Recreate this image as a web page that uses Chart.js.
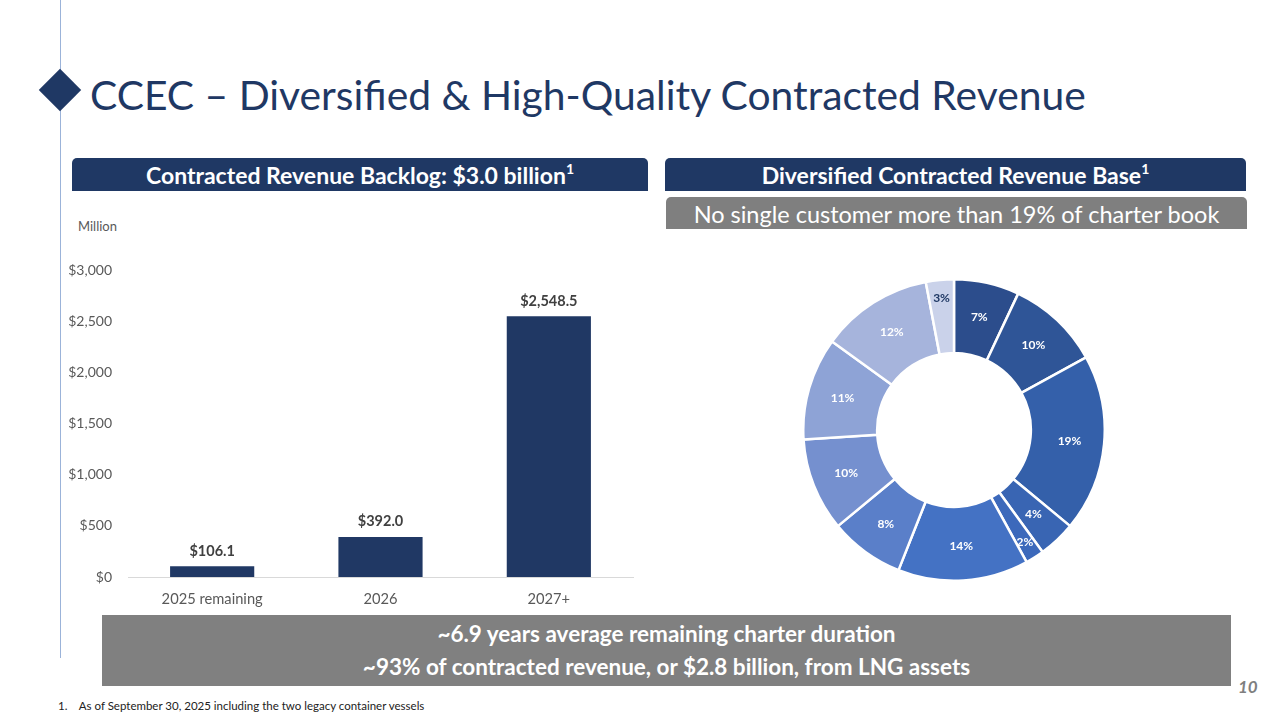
<!DOCTYPE html>
<html>
<head>
<meta charset="utf-8">
<script src="https://cdn.jsdelivr.net/npm/chart.js@4"></script>
<style>
  html, body { margin:0; padding:0; background:#fff; width:1280px; height:720px; overflow:hidden; font-family: Lato, "Open Sans", sans-serif; }
  .abs { position:absolute; }
  #vline { left:60px; top:0; width:1px; height:658px; background:#9bb3d9; }
  #diamond { left:45px; top:75px; width:30px; height:30px; background:#1f3864; transform:rotate(45deg); }
  #title { left:90px; top:71px; font-size:40.8px; color:#1f3864; white-space:nowrap; line-height:48px; }
  .hdr { background:#1f3864; color:#fff; font-weight:bold; font-size:23px; text-align:center; line-height:35px; height:33px; border-radius:5px 5px 0 0; white-space:nowrap; overflow:hidden; }
  .hdr sup { font-size:14px; vertical-align:top; line-height:22px; }
  #hdrL { left:72px; top:158px; width:576px; }
  #hdrR { left:665px; top:158px; width:581px; }
  #sub { left:666px; top:197px; width:581px; height:32px; line-height:34px; background:#7f7f7f; color:#fff; font-size:23.5px; text-align:center; border-radius:5px 5px 0 0; white-space:nowrap; overflow:hidden; }
  #million { left:78px; top:218px; font-size:13px; color:#595959; }
  #barWrap { left:50px; top:240px; width:600px; height:380px; }
  #pieWrap { left:802px; top:278px; width:304px; height:304px; }
  #bottom { left:102px; top:615px; width:1129px; height:71px; background:#808080; color:#fff; font-weight:bold; font-size:22.5px; text-align:center; }
  #bottom div { height:33px; line-height:37px; }
  #foot { left:58px; top:699px; font-size:11.5px; color:#222; white-space:nowrap; }
  #pnum { left:1238px; top:676px; font-size:17px; font-weight:bold; font-style:italic; color:#7f7f7f; }
</style>
</head>
<body>
<div id="vline" class="abs"></div>
<div id="diamond" class="abs"></div>
<div id="title" class="abs">CCEC – Diversified &amp; High-Quality Contracted Revenue</div>
<div id="hdrL" class="abs hdr">Contracted Revenue Backlog: $3.0 billion<sup>1</sup></div>
<div id="hdrR" class="abs hdr">Diversified Contracted Revenue Base<sup>1</sup></div>
<div id="sub" class="abs">No single customer more than 19% of charter book</div>
<div id="million" class="abs">Million</div>
<div id="barWrap" class="abs"><canvas id="bar" width="600" height="380"></canvas></div>
<div id="pieWrap" class="abs"><canvas id="pie" width="304" height="304"></canvas></div>
<div id="bottom" class="abs"><div>~6.9 years average remaining charter duration</div><div>~93% of contracted revenue, or $2.8 billion, from LNG assets</div></div>
<div id="foot" class="abs">1.&nbsp;&nbsp;&nbsp;&nbsp;As of September 30, 2025 including the two legacy container vessels</div>
<div id="pnum" class="abs">10</div>
<script>
const barCategories = ["2025 remaining", "2026", "2027+"];
const barValues = [106.1, 392.0, 2548.5];
const yTickMax = 3000;
const yTickStep = 500;

const pieShares = [7, 10, 19, 4, 2, 14, 8, 10, 11, 12, 3];
const pieColors = ["#2c4d8c", "#2f5597", "#3460aa", "#3965b3", "#3c69bb", "#4472c4", "#5a7fc9", "#7590cf", "#8ea3d6", "#a6b4dc", "#cad2ea"];
const pieLabelColors = ["#fff","#fff","#fff","#fff","#fff","#fff","#fff","#fff","#fff","#fff","#1f3864"];

const fontFam = 'Lato, "Open Sans", sans-serif';

const barLabels = {
  id: 'barLabels',
  afterDatasetsDraw(chart) {
    const ctx = chart.ctx;
    const meta = chart.getDatasetMeta(0);
    ctx.save();
    ctx.font = 'bold 14.5px ' + fontFam;
    ctx.fillStyle = '#404040';
    ctx.textAlign = 'center';
    ctx.textBaseline = 'bottom';
    meta.data.forEach((el, i) => {
      const v = barValues[i];
      const txt = '$' + v.toLocaleString('en-US', {minimumFractionDigits:1, maximumFractionDigits:1});
      ctx.fillText(txt, el.x, el.y - 8);
    });
    ctx.restore();
  }
};

new Chart(document.getElementById('bar'), {
  type: 'bar',
  data: { labels: barCategories, datasets: [{ data: barValues, backgroundColor: '#203864', barPercentage: 0.5, categoryPercentage: 1.0 }] },
  options: {
    responsive: false, animation: false,
    layout: { padding: { top: 30, right: 17, left: 0, bottom: 0 } },
    plugins: { legend: { display: false }, tooltip: { enabled: false } },
    scales: {
      x: {
        grid: { display: false, drawTicks: false },
        border: { display: true, color: '#d9d9d9' },
        ticks: { color: '#595959', font: { size: 14.7, family: fontFam }, padding: 13 },
        afterFit(s) { s.height = 43; }
      },
      y: {
        min: 0, max: yTickMax,
        grid: { display: false, drawTicks: false },
        border: { display: false },
        ticks: { stepSize: yTickStep, color: '#595959', font: { size: 14, family: fontFam }, padding: 16,
          callback: v => '$' + v.toLocaleString('en-US') },
        afterFit(s) { s.width = 78; }
      }
    }
  },
  plugins: [barLabels]
});

const pieLabels = {
  id: 'pieLabels',
  afterDatasetsDraw(chart) {
    const ctx = chart.ctx;
    const meta = chart.getDatasetMeta(0);
    ctx.save();
    ctx.font = 'bold 12px ' + fontFam;
    ctx.textAlign = 'center';
    ctx.textBaseline = 'middle';
    meta.data.forEach((arc, i) => {
      const mid = (arc.startAngle + arc.endAngle) / 2;
      const r = arc.innerRadius + (arc.outerRadius - arc.innerRadius) * (pieShares[i] <= 3 ? 0.75 : 0.53);
      ctx.fillStyle = pieLabelColors[i];
      ctx.fillText(pieShares[i] + '%', arc.x + Math.cos(mid) * r, arc.y + Math.sin(mid) * r);
    });
    ctx.restore();
  }
};

new Chart(document.getElementById('pie'), {
  type: 'doughnut',
  data: { labels: pieShares.map((v, i) => 'Customer ' + (i + 1)), datasets: [{ data: pieShares, backgroundColor: pieColors, borderColor: '#ffffff', borderWidth: 2.5 }] },
  options: {
    responsive: false, animation: false, cutout: '51%',
    plugins: { legend: { display: false }, tooltip: { enabled: false } }
  },
  plugins: [pieLabels]
});
</script>
</body>
</html>
